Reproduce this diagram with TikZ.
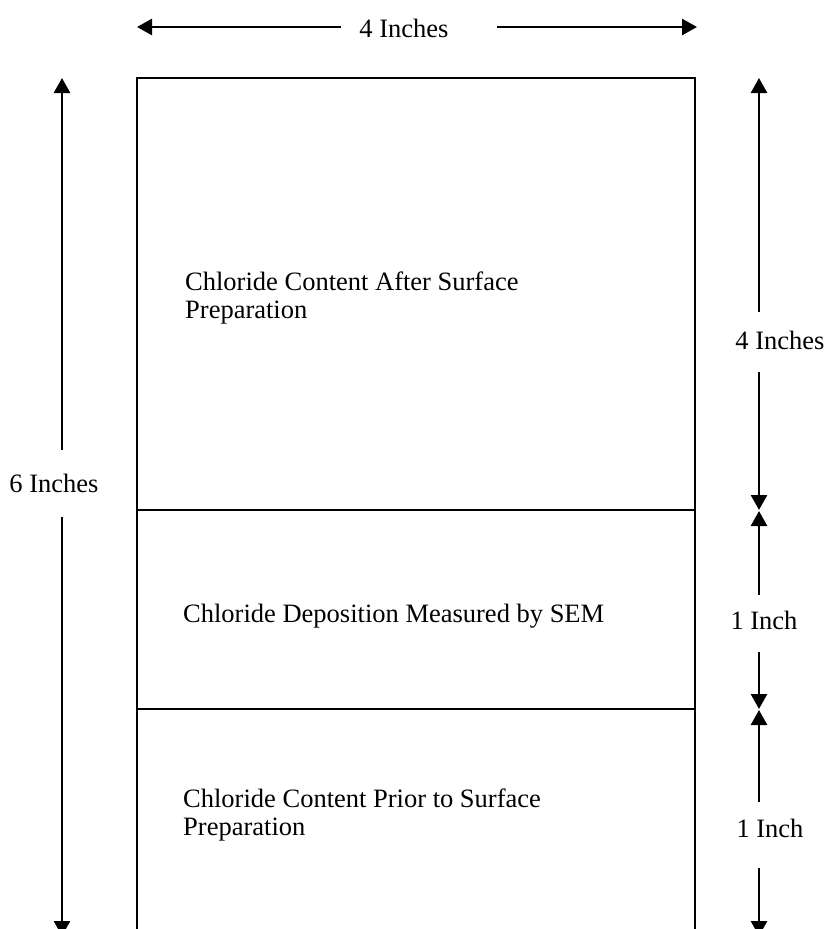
\documentclass[tikz,border=0pt]{standalone}
\usepackage{fontspec}
\setmainfont{Liberation Serif}
\usetikzlibrary{arrows.meta}
\tikzset{
  boxline/.style={draw=black, line width=1.6pt},
  dimline/.style={draw=black, line width=2.6pt, -{Triangle[width=16pt,length=15pt]}},
  lbl/.style={inner sep=0pt, font=\fontsize{26.5}{28}\selectfont},
  boxtext/.style={inner sep=0pt, align=left, font=\fontsize{26.5}{28}\selectfont}
}
\begin{document}
\begin{tikzpicture}[x=1pt,y=-1pt]
\useasboundingbox (0,0) rectangle (830,929);
\clip (0,0) rectangle (830,929);
% main box
\coordinate (bTL) at (137,78);
\coordinate (bTR) at (695,78);
\coordinate (bBL) at (137,960);
\coordinate (bBR) at (695,960);
\coordinate (d1L) at (137,510);
\coordinate (d1R) at (695,510);
\coordinate (d2L) at (137,709);
\coordinate (d2R) at (695,709);
\draw[boxline] (bBL) -- (bTL) -- (bTR) -- (bBR);
\draw[boxline] (d1L) -- (d1R);
\draw[boxline] (d2L) -- (d2R);
% texts in box
\node[boxtext, anchor=north west] (tA) at (185,272) {Chloride Content After Surface\\Preparation};
\node[lbl, anchor=base west] (tB) at (183,622) {Chloride Deposition Measured by SEM};
\node[boxtext, anchor=north west] (tC) at (183,789) {Chloride Content Prior to Surface\\Preparation};
% top dimension
\node[lbl, anchor=base] (wtop) at (404,37) {4 Inches};
\coordinate (w1) at (341,27);
\coordinate (w1t) at (137,27);
\coordinate (w2) at (497,27);
\coordinate (w2t) at (697,27);
\draw[dimline] (w1) -- (w1t);
\draw[dimline] (w2) -- (w2t);
% left dimension
\node[lbl, anchor=base] (hsix) at (54,492) {6 Inches};
\coordinate (l1) at (62,450);
\coordinate (l1t) at (62,78);
\coordinate (l2) at (62,517);
\coordinate (l2t) at (62,936);
\draw[dimline] (l1) -- (l1t);
\draw[dimline] (l2) -- (l2t);
% right dimensions
\node[lbl, anchor=base] (hfour) at (780,349) {4 Inches};
\coordinate (r1) at (759,312);
\coordinate (r1t) at (759,78);
\coordinate (r2) at (759,372);
\coordinate (r2t) at (759,510);
\draw[dimline] (r1) -- (r1t);
\draw[dimline] (r2) -- (r2t);
\node[lbl, anchor=base] (hone1) at (764,629) {1 Inch};
\coordinate (r3) at (759,595);
\coordinate (r3t) at (759,511);
\coordinate (r4) at (759,652);
\coordinate (r4t) at (759,709);
\draw[dimline] (r3) -- (r3t);
\draw[dimline] (r4) -- (r4t);
\node[lbl, anchor=base] (hone2) at (770,837) {1 Inch};
\coordinate (r5) at (759,802);
\coordinate (r5t) at (759,710);
\coordinate (r6) at (759,868);
\coordinate (r6t) at (759,936);
\draw[dimline] (r5) -- (r5t);
\draw[dimline] (r6) -- (r6t);
\end{tikzpicture}
\end{document}
